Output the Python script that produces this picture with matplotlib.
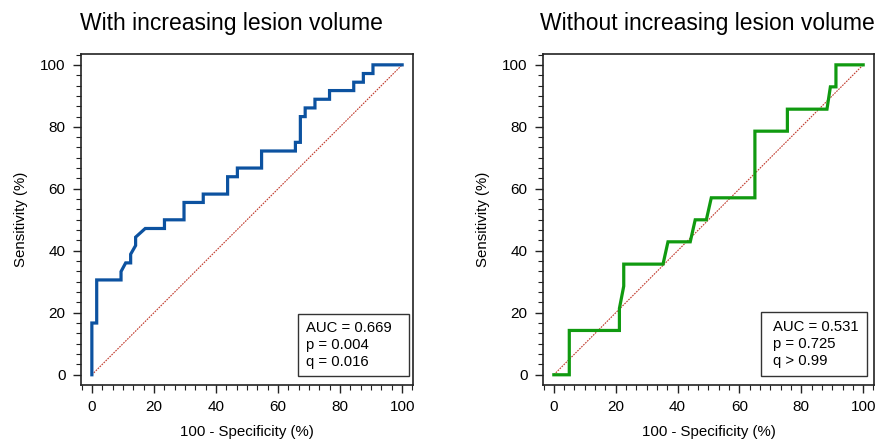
import matplotlib
matplotlib.use("Agg")
import matplotlib.pyplot as plt
from matplotlib.ticker import MultipleLocator
from matplotlib.patches import Rectangle

plt.rcParams['font.family'] = ['Liberation Sans', 'DejaVu Sans']

# Left panel: with increasing lesion volume (100 - specificity, sensitivity)
left_fpr = [0, 0, 1.56, 1.56, 9.4, 9.4, 10.9, 12.5, 12.5, 14.1, 14.1, 17.2, 23.4, 23.4,
            29.7, 29.7, 35.9, 35.9, 43.75, 43.75, 46.9, 46.9, 54.7, 54.7, 65.6, 65.6,
            67.2, 67.2, 68.75, 68.75, 71.9, 71.9, 76.6, 76.6, 84.4, 84.4, 87.5, 87.5,
            90.6, 90.6, 100]
left_tpr = [0, 16.7, 16.7, 30.6, 30.6, 33.3, 36.1, 36.1, 38.9, 41.7, 44.4, 47.2, 47.2, 50,
            50, 55.6, 55.6, 58.3, 58.3, 63.9, 63.9, 66.7, 66.7, 72.2, 72.2, 75,
            75, 83.3, 83.3, 86.1, 86.1, 88.9, 88.9, 91.7, 91.7, 94.4, 94.4, 97.2,
            97.2, 100, 100]

# Right panel: without increasing lesion volume
right_fpr = [0, 5.0, 5.0, 21.2, 21.2, 22.6, 22.6, 35.3, 36.9, 44.1, 45.7, 49.3, 50.9,
             65, 65, 75.5, 75.5, 88.3, 89.4, 91.2, 91.2, 100]
right_tpr = [0, 0, 14.3, 14.3, 21.4, 28.6, 35.7, 35.7, 42.9, 42.9, 50, 50, 57.1,
             57.1, 78.6, 78.6, 85.7, 85.7, 92.9, 92.9, 100, 100]

titles = ["With increasing lesion volume", "Without increasing lesion volume"]
stats = [["AUC = 0.669", "p = 0.004", "q = 0.016"],
         ["AUC = 0.531", "p = 0.725", "q > 0.99"]]
ticks = [0, 20, 40, 60, 80, 100]

fig = plt.figure(figsize=(8.78, 4.44), dpi=100)
axes_rects = [[81/878, 1-385/444, 332/878, 331/444],
              [543/878, 1-385/444, 331/878, 331/444]]
curves = [(left_fpr, left_tpr, '#0c52a0'), (right_fpr, right_tpr, '#109a10')]
boxes = [(0.654, 0.027, 0.334, 0.188, 0.678), (0.659, 0.027, 0.320, 0.194, 0.695)]
title_x = [0.452, 0.498]

for i in range(2):
    ax = fig.add_axes(axes_rects[i])
    fx, ty, col = curves[i]
    ax.plot([0, 100], [0, 100], color='#c0392b', lw=0.8, linestyle=(0, (1.5, 1)))
    ax.plot(fx, ty, color=col, lw=2.3, solid_joinstyle='miter')
    ax.set_xlim(-3.5, 103.5)
    ax.set_ylim(-3.3, 103.5)
    ax.set_xticks(ticks)
    ax.set_yticks(ticks)
    ax.xaxis.set_minor_locator(MultipleLocator(20/6))
    ax.yaxis.set_minor_locator(MultipleLocator(20/6))
    ax.tick_params(which='major', direction='out', length=6, width=1, labelsize=11,
                   color='#222222', pad=5)
    ax.tick_params(which='minor', direction='out', length=3.5, width=0.8, color='#222222')
    for s in ax.spines.values():
        s.set_linewidth(1.2)
        s.set_color('#222222')
    ax.set_xlabel("100 - Specificity (%)", fontsize=10.8, labelpad=8)
    ax.set_ylabel("Sensitivity (%)", fontsize=10.8, labelpad=9)
    ax.set_title(titles[i], fontsize=16.5, pad=17.5, x=title_x[i])
    bx, by, bw, bh, tx = boxes[i]
    ax.add_patch(Rectangle((bx, by), bw, bh, transform=ax.transAxes, fill=False,
                           edgecolor='#333333', lw=1.0, zorder=5))
    ax.text(tx, by + bh/2, "\n".join(stats[i]), transform=ax.transAxes, ha='left',
            va='center', fontsize=10.7, linespacing=1.3, zorder=6)

fig.savefig("out.png", dpi=100)
